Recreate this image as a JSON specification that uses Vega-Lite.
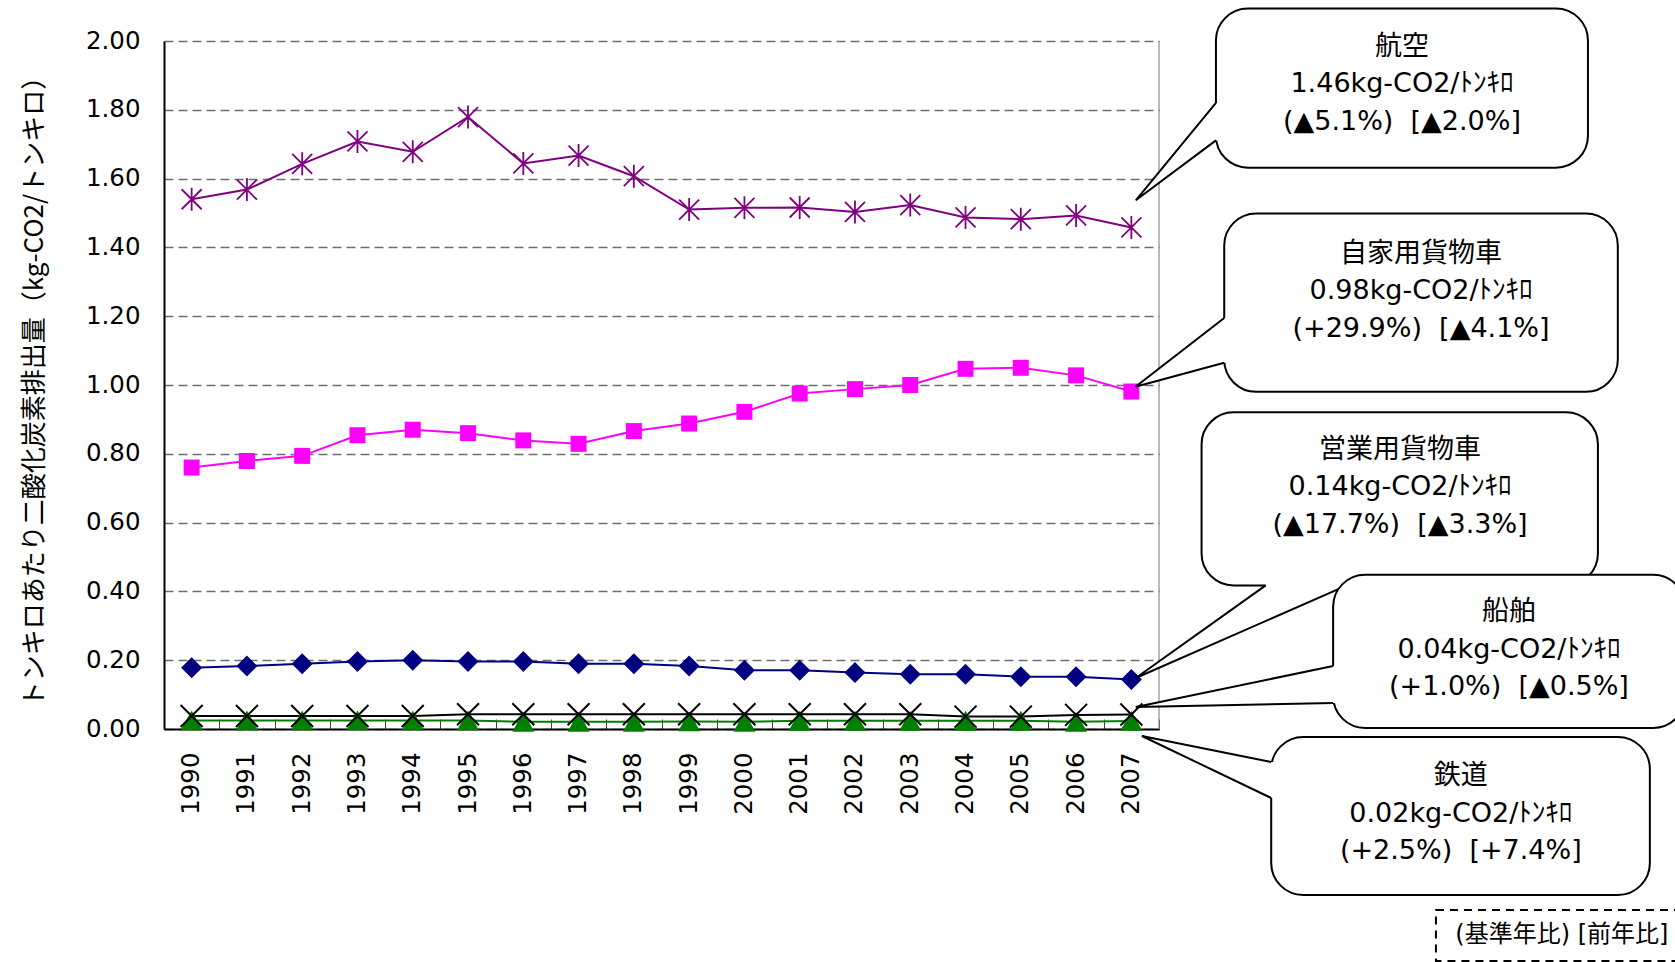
{
  "$schema": "https://vega.github.io/schema/vega-lite/v6.json",
  "width": 995,
  "height": 688,
  "autosize": {"type": "none"},
  "padding": {"left": 164, "top": 41, "right": 516, "bottom": 233},
  "background": "white",
  "config": {"view": {"stroke": null}},
  "datasets": {
    "series": [
      {"year": 1990, "series": "航空", "value": 1.540},
      {"year": 1991, "series": "航空", "value": 1.568},
      {"year": 1992, "series": "航空", "value": 1.643},
      {"year": 1993, "series": "航空", "value": 1.708},
      {"year": 1994, "series": "航空", "value": 1.678},
      {"year": 1995, "series": "航空", "value": 1.779},
      {"year": 1996, "series": "航空", "value": 1.644},
      {"year": 1997, "series": "航空", "value": 1.667},
      {"year": 1998, "series": "航空", "value": 1.607},
      {"year": 1999, "series": "航空", "value": 1.510},
      {"year": 2000, "series": "航空", "value": 1.515},
      {"year": 2001, "series": "航空", "value": 1.516},
      {"year": 2002, "series": "航空", "value": 1.503},
      {"year": 2003, "series": "航空", "value": 1.523},
      {"year": 2004, "series": "航空", "value": 1.487},
      {"year": 2005, "series": "航空", "value": 1.482},
      {"year": 2006, "series": "航空", "value": 1.493},
      {"year": 2007, "series": "航空", "value": 1.458},
      {"year": 1990, "series": "自家用貨物車", "value": 0.760},
      {"year": 1991, "series": "自家用貨物車", "value": 0.779},
      {"year": 1992, "series": "自家用貨物車", "value": 0.794},
      {"year": 1993, "series": "自家用貨物車", "value": 0.854},
      {"year": 1994, "series": "自家用貨物車", "value": 0.870},
      {"year": 1995, "series": "自家用貨物車", "value": 0.860},
      {"year": 1996, "series": "自家用貨物車", "value": 0.839},
      {"year": 1997, "series": "自家用貨物車", "value": 0.829},
      {"year": 1998, "series": "自家用貨物車", "value": 0.866},
      {"year": 1999, "series": "自家用貨物車", "value": 0.888},
      {"year": 2000, "series": "自家用貨物車", "value": 0.922},
      {"year": 2001, "series": "自家用貨物車", "value": 0.975},
      {"year": 2002, "series": "自家用貨物車", "value": 0.988},
      {"year": 2003, "series": "自家用貨物車", "value": 1.000},
      {"year": 2004, "series": "自家用貨物車", "value": 1.047},
      {"year": 2005, "series": "自家用貨物車", "value": 1.050},
      {"year": 2006, "series": "自家用貨物車", "value": 1.028},
      {"year": 2007, "series": "自家用貨物車", "value": 0.981},
      {"year": 1990, "series": "営業用貨物車", "value": 0.178},
      {"year": 1991, "series": "営業用貨物車", "value": 0.183},
      {"year": 1992, "series": "営業用貨物車", "value": 0.190},
      {"year": 1993, "series": "営業用貨物車", "value": 0.196},
      {"year": 1994, "series": "営業用貨物車", "value": 0.200},
      {"year": 1995, "series": "営業用貨物車", "value": 0.196},
      {"year": 1996, "series": "営業用貨物車", "value": 0.196},
      {"year": 1997, "series": "営業用貨物車", "value": 0.190},
      {"year": 1998, "series": "営業用貨物車", "value": 0.190},
      {"year": 1999, "series": "営業用貨物車", "value": 0.183},
      {"year": 2000, "series": "営業用貨物車", "value": 0.171},
      {"year": 2001, "series": "営業用貨物車", "value": 0.171},
      {"year": 2002, "series": "営業用貨物車", "value": 0.164},
      {"year": 2003, "series": "営業用貨物車", "value": 0.159},
      {"year": 2004, "series": "営業用貨物車", "value": 0.159},
      {"year": 2005, "series": "営業用貨物車", "value": 0.152},
      {"year": 2006, "series": "営業用貨物車", "value": 0.152},
      {"year": 2007, "series": "営業用貨物車", "value": 0.144},
      {"year": 1990, "series": "船舶", "value": 0.038},
      {"year": 1991, "series": "船舶", "value": 0.038},
      {"year": 1992, "series": "船舶", "value": 0.038},
      {"year": 1993, "series": "船舶", "value": 0.038},
      {"year": 1994, "series": "船舶", "value": 0.038},
      {"year": 1995, "series": "船舶", "value": 0.043},
      {"year": 1996, "series": "船舶", "value": 0.043},
      {"year": 1997, "series": "船舶", "value": 0.043},
      {"year": 1998, "series": "船舶", "value": 0.043},
      {"year": 1999, "series": "船舶", "value": 0.043},
      {"year": 2000, "series": "船舶", "value": 0.043},
      {"year": 2001, "series": "船舶", "value": 0.043},
      {"year": 2002, "series": "船舶", "value": 0.043},
      {"year": 2003, "series": "船舶", "value": 0.043},
      {"year": 2004, "series": "船舶", "value": 0.036},
      {"year": 2005, "series": "船舶", "value": 0.036},
      {"year": 2006, "series": "船舶", "value": 0.041},
      {"year": 2007, "series": "船舶", "value": 0.042},
      {"year": 1990, "series": "鉄道", "value": 0.025},
      {"year": 1991, "series": "鉄道", "value": 0.025},
      {"year": 1992, "series": "鉄道", "value": 0.025},
      {"year": 1993, "series": "鉄道", "value": 0.025},
      {"year": 1994, "series": "鉄道", "value": 0.025},
      {"year": 1995, "series": "鉄道", "value": 0.025},
      {"year": 1996, "series": "鉄道", "value": 0.021},
      {"year": 1997, "series": "鉄道", "value": 0.021},
      {"year": 1998, "series": "鉄道", "value": 0.021},
      {"year": 1999, "series": "鉄道", "value": 0.022},
      {"year": 2000, "series": "鉄道", "value": 0.021},
      {"year": 2001, "series": "鉄道", "value": 0.024},
      {"year": 2002, "series": "鉄道", "value": 0.024},
      {"year": 2003, "series": "鉄道", "value": 0.024},
      {"year": 2004, "series": "鉄道", "value": 0.024},
      {"year": 2005, "series": "鉄道", "value": 0.024},
      {"year": 2006, "series": "鉄道", "value": 0.021},
      {"year": 2007, "series": "鉄道", "value": 0.0235}
    ],
    "callouts": [
      {"name": "航空", "x": 2008.53, "x2": 2015.26, "y": 2.0945, "y2": 1.6317, "cx": 2011.895, "cy": 1.983, "label": "航空\n1.46kg-CO2/ﾄﾝｷﾛ\n(▲5.1%)\u00a0\u00a0[▲2.0%]"},
      {"name": "自家用貨物車", "x": 2008.68, "x2": 2015.80, "y": 1.4985, "y2": 0.9802, "cx": 2012.24, "cy": 1.382, "label": "自家用貨物車\n0.98kg-CO2/ﾄﾝｷﾛ\n(+29.9%)\u00a0\u00a0[▲4.1%]"},
      {"name": "営業用貨物車", "x": 2008.27, "x2": 2015.44, "y": 0.9206, "y2": 0.4174, "cx": 2011.86, "cy": 0.812, "label": "営業用貨物車\n0.14kg-CO2/ﾄﾝｷﾛ\n(▲17.7%)\u00a0\u00a0[▲3.3%]"},
      {"name": "船舶", "x": 2010.65, "x2": 2017.02, "y": 0.4485, "y2": 0.0029, "cx": 2013.83, "cy": 0.340, "label": "船舶\n0.04kg-CO2/ﾄﾝｷﾛ\n(+1.0%)\u00a0\u00a0[▲0.5%]"},
      {"name": "鉄道", "x": 2009.53, "x2": 2016.38, "y": -0.0233, "y2": -0.4826, "cx": 2012.96, "cy": -0.138, "label": "鉄道\n0.02kg-CO2/ﾄﾝｷﾛ\n(+2.5%)\u00a0\u00a0[+7.4%]"}
    ],
    "tailEdges": [
      {"name": "航空", "o": 1, "x": 2008.53, "y": 1.82},
      {"name": "航空", "o": 2, "x": 2007.08, "y": 1.537},
      {"name": "航空", "o": 3, "x": 2008.53, "y": 1.711},
      {"name": "自家用貨物車", "o": 1, "x": 2008.68, "y": 1.1948},
      {"name": "自家用貨物車", "o": 2, "x": 2007.075, "y": 0.995},
      {"name": "自家用貨物車", "o": 3, "x": 2008.68, "y": 1.0648},
      {"name": "営業用貨物車", "o": 1, "x": 2009.43, "y": 0.4174},
      {"name": "営業用貨物車", "o": 2, "x": 2007.08, "y": 0.1483},
      {"name": "営業用貨物車", "o": 3, "x": 2010.90, "y": 0.4174},
      {"name": "船舶", "o": 1, "x": 2010.65, "y": 0.1831},
      {"name": "船舶", "o": 2, "x": 2007.08, "y": 0.064},
      {"name": "船舶", "o": 3, "x": 2010.65, "y": 0.0756},
      {"name": "鉄道", "o": 1, "x": 2009.53, "y": -0.0959},
      {"name": "鉄道", "o": 2, "x": 2007.19, "y": -0.0203},
      {"name": "鉄道", "o": 3, "x": 2009.53, "y": -0.2006}
    ],
    "tailFillSide": [
      {"name": "航空", "x": 2007.08, "y": 1.537, "y2": 1.537},
      {"name": "航空", "x": 2008.53, "y": 1.82, "y2": 1.711},
      {"name": "航空", "x": 2008.62, "y": 1.82, "y2": 1.711},
      {"name": "自家用貨物車", "x": 2007.075, "y": 0.995, "y2": 0.995},
      {"name": "自家用貨物車", "x": 2008.68, "y": 1.1948, "y2": 1.0648},
      {"name": "自家用貨物車", "x": 2008.77, "y": 1.1948, "y2": 1.0648},
      {"name": "船舶", "x": 2007.08, "y": 0.064, "y2": 0.064},
      {"name": "船舶", "x": 2010.65, "y": 0.1831, "y2": 0.0756},
      {"name": "船舶", "x": 2010.74, "y": 0.1831, "y2": 0.0756},
      {"name": "鉄道", "x": 2007.19, "y": -0.0203, "y2": -0.0203},
      {"name": "鉄道", "x": 2009.53, "y": -0.0959, "y2": -0.2006},
      {"name": "鉄道", "x": 2009.62, "y": -0.0959, "y2": -0.2006}
    ],
    "tailFillBottom": [
      {"name": "営業用貨物車", "y": 0.1483, "x": 2007.08, "x2": 2007.08},
      {"name": "営業用貨物車", "y": 0.4174, "x": 2009.43, "x2": 2010.90},
      {"name": "営業用貨物車", "y": 0.434, "x": 2009.43, "x2": 2010.90}
    ],
    "note": [
      {"x": 2012.51, "x2": 2017.29, "y": -0.526, "y2": -0.6744, "tx": 2012.86, "ty": -0.5988, "label": "(基準年比) [前年比]"}
    ]
  },
  "layer": [
    {
      "data": {"name": "series"},
      "encoding": {
        "x": {
          "field": "year", "type": "ordinal",
          "scale": {"type": "band", "paddingInner": 0, "paddingOuter": 0},
          "axis": {
            "title": null, "labelAngle": -90, "labelAlign": "right", "labelBaseline": "middle",
            "labelFont": "DejaVu Sans", "labelFontSize": 24.5, "labelColor": "#000000",
            "labelPadding": 33, "labelOverlap": false,
            "tickBand": "extent", "tickSize": -10, "tickColor": "#404040", "tickWidth": 1,
            "domainColor": "#000000", "domainWidth": 2, "grid": false
          }
        },
        "y": {
          "field": "value", "type": "quantitative",
          "scale": {"domain": [0, 2], "nice": false, "zero": false},
          "axis": {
            "title": "トンキロあたり二酸化炭素排出量（kg-CO2/トンキロ）",
            "titleFont": "Noto Sans CJK JP", "titleFontSize": 26, "titleFontWeight": "normal",
            "titleColor": "#000000", "titlePadding": 38,
            "values": [0, 0.2, 0.4, 0.6, 0.8, 1.0, 1.2, 1.4, 1.6, 1.8, 2.0],
            "format": ".2f",
            "labelFont": "DejaVu Sans", "labelFontSize": 24.5, "labelColor": "#000000", "labelPadding": 24,
            "ticks": false, "domainColor": "#000000", "domainWidth": 2,
            "grid": true, "gridColor": "#6e6e6e", "gridDash": [9, 5], "gridWidth": 1.5
          }
        }
      },
      "layer": [
        {
          "mark": {"type": "line", "strokeWidth": 2},
          "encoding": {
            "color": {
              "field": "series", "type": "nominal", "legend": null,
              "scale": {
                "domain": ["鉄道", "船舶", "営業用貨物車", "自家用貨物車", "航空"],
                "range": ["#008000", "#000000", "#000080", "#FF00FF", "#800080"]
              }
            }
          }
        },
        {
          "transform": [{"filter": "datum.series === '鉄道'"}],
          "mark": {"type": "point", "shape": "M0,-0.9L1,0.9L-1,0.9Z", "filled": true, "size": 484, "color": "#008000", "opacity": 1}
        },
        {
          "transform": [{"filter": "datum.series === '船舶'"}],
          "mark": {"type": "point", "shape": "M-1,-1L1,1M-1,1L1,-1", "filled": false, "size": 484, "color": "#000000", "strokeWidth": 2, "opacity": 1}
        },
        {
          "transform": [{"filter": "datum.series === '営業用貨物車'"}],
          "mark": {"type": "point", "shape": "diamond", "filled": true, "size": 441, "color": "#000080", "opacity": 1}
        },
        {
          "transform": [{"filter": "datum.series === '自家用貨物車'"}],
          "mark": {"type": "point", "shape": "square", "filled": true, "size": 256, "color": "#FF00FF", "opacity": 1}
        },
        {
          "transform": [{"filter": "datum.series === '航空'"}],
          "mark": {"type": "point", "shape": "M-1,-1L1,1M-1,1L1,-1M0,-1.15L0,1.15", "filled": false, "size": 400, "color": "#800080", "strokeWidth": 1.8, "opacity": 1}
        }
      ]
    },
    {
      "layer": [
        {
          "data": {"values": [{}]},
          "mark": {"type": "rule", "color": "#8c8c8c", "strokeWidth": 1.2},
          "encoding": {
            "x": {"datum": 2007.5, "type": "quantitative", "scale": {"domain": [1989.5, 2007.5], "nice": false, "zero": false}, "axis": null},
            "y": {"datum": 0, "type": "quantitative", "scale": {"domain": [0, 2], "nice": false, "zero": false}, "axis": null},
            "y2": {"datum": 2}
          }
        },
        {
          "data": {"name": "callouts"},
          "transform": [{"filter": {"field": "name", "oneOf": ["航空", "自家用貨物車", "営業用貨物車"]}}],
          "mark": {"type": "rect", "fill": "white", "stroke": "black", "strokeWidth": 2, "cornerRadius": 32},
          "encoding": {
            "x": {"field": "x", "type": "quantitative", "scale": {"domain": [1989.5, 2007.5], "nice": false, "zero": false}, "axis": null},
            "x2": {"field": "x2"},
            "y": {"field": "y", "type": "quantitative", "scale": {"domain": [0, 2], "nice": false, "zero": false}, "axis": null},
            "y2": {"field": "y2"}
          }
        },
        {
          "data": {"name": "tailFillSide"},
          "transform": [{"filter": {"field": "name", "oneOf": ["航空", "自家用貨物車"]}}],
          "mark": {"type": "area", "fill": "white", "opacity": 1, "strokeWidth": 0},
          "encoding": {
            "x": {"field": "x", "type": "quantitative", "scale": {"domain": [1989.5, 2007.5], "nice": false, "zero": false}, "axis": null},
            "y": {"field": "y", "type": "quantitative", "scale": {"domain": [0, 2], "nice": false, "zero": false}, "axis": null},
            "y2": {"field": "y2"},
            "detail": {"field": "name"}
          }
        },
        {
          "data": {"name": "tailFillBottom"},
          "mark": {"type": "area", "fill": "white", "opacity": 1, "strokeWidth": 0},
          "encoding": {
            "y": {"field": "y", "type": "quantitative", "scale": {"domain": [0, 2], "nice": false, "zero": false}, "axis": null},
            "x": {"field": "x", "type": "quantitative", "scale": {"domain": [1989.5, 2007.5], "nice": false, "zero": false}, "axis": null},
            "x2": {"field": "x2"},
            "detail": {"field": "name"}
          }
        },
        {
          "data": {"name": "tailEdges"},
          "transform": [{"filter": {"field": "name", "oneOf": ["航空", "自家用貨物車", "営業用貨物車"]}}],
          "mark": {"type": "line", "color": "black", "strokeWidth": 2},
          "encoding": {
            "x": {"field": "x", "type": "quantitative", "scale": {"domain": [1989.5, 2007.5], "nice": false, "zero": false}, "axis": null},
            "y": {"field": "y", "type": "quantitative", "scale": {"domain": [0, 2], "nice": false, "zero": false}, "axis": null},
            "detail": {"field": "name"},
            "order": {"field": "o"}
          }
        },
        {
          "data": {"name": "callouts"},
          "transform": [{"filter": {"field": "name", "oneOf": ["航空", "自家用貨物車", "営業用貨物車"]}}],
          "mark": {"type": "text", "font": "DejaVu Sans, Noto Sans CJK JP", "fontSize": 27, "color": "black", "align": "center", "baseline": "middle", "lineBreak": "\n", "lineHeight": 37.5},
          "encoding": {
            "x": {"field": "cx", "type": "quantitative", "scale": {"domain": [1989.5, 2007.5], "nice": false, "zero": false}, "axis": null},
            "y": {"field": "cy", "type": "quantitative", "scale": {"domain": [0, 2], "nice": false, "zero": false}, "axis": null},
            "text": {"field": "label"}
          }
        },
        {
          "data": {"name": "callouts"},
          "transform": [{"filter": {"field": "name", "oneOf": ["船舶", "鉄道"]}}],
          "mark": {"type": "rect", "fill": "white", "stroke": "black", "strokeWidth": 2, "cornerRadius": 32},
          "encoding": {
            "x": {"field": "x", "type": "quantitative", "scale": {"domain": [1989.5, 2007.5], "nice": false, "zero": false}, "axis": null},
            "x2": {"field": "x2"},
            "y": {"field": "y", "type": "quantitative", "scale": {"domain": [0, 2], "nice": false, "zero": false}, "axis": null},
            "y2": {"field": "y2"}
          }
        },
        {
          "data": {"name": "tailFillSide"},
          "transform": [{"filter": {"field": "name", "oneOf": ["船舶", "鉄道"]}}],
          "mark": {"type": "area", "fill": "white", "opacity": 1, "strokeWidth": 0},
          "encoding": {
            "x": {"field": "x", "type": "quantitative", "scale": {"domain": [1989.5, 2007.5], "nice": false, "zero": false}, "axis": null},
            "y": {"field": "y", "type": "quantitative", "scale": {"domain": [0, 2], "nice": false, "zero": false}, "axis": null},
            "y2": {"field": "y2"},
            "detail": {"field": "name"}
          }
        },
        {
          "data": {"name": "tailEdges"},
          "transform": [{"filter": {"field": "name", "oneOf": ["船舶", "鉄道"]}}],
          "mark": {"type": "line", "color": "black", "strokeWidth": 2},
          "encoding": {
            "x": {"field": "x", "type": "quantitative", "scale": {"domain": [1989.5, 2007.5], "nice": false, "zero": false}, "axis": null},
            "y": {"field": "y", "type": "quantitative", "scale": {"domain": [0, 2], "nice": false, "zero": false}, "axis": null},
            "detail": {"field": "name"},
            "order": {"field": "o"}
          }
        },
        {
          "data": {"name": "callouts"},
          "transform": [{"filter": {"field": "name", "oneOf": ["船舶", "鉄道"]}}],
          "mark": {"type": "text", "font": "DejaVu Sans, Noto Sans CJK JP", "fontSize": 27, "color": "black", "align": "center", "baseline": "middle", "lineBreak": "\n", "lineHeight": 37.5},
          "encoding": {
            "x": {"field": "cx", "type": "quantitative", "scale": {"domain": [1989.5, 2007.5], "nice": false, "zero": false}, "axis": null},
            "y": {"field": "cy", "type": "quantitative", "scale": {"domain": [0, 2], "nice": false, "zero": false}, "axis": null},
            "text": {"field": "label"}
          }
        },
        {
          "data": {"name": "note"},
          "mark": {"type": "rect", "fill": null, "stroke": "black", "strokeWidth": 2, "strokeDash": [8, 6]},
          "encoding": {
            "x": {"field": "x", "type": "quantitative", "scale": {"domain": [1989.5, 2007.5], "nice": false, "zero": false}, "axis": null},
            "x2": {"field": "x2"},
            "y": {"field": "y", "type": "quantitative", "scale": {"domain": [0, 2], "nice": false, "zero": false}, "axis": null},
            "y2": {"field": "y2"}
          }
        },
        {
          "data": {"name": "note"},
          "mark": {"type": "text", "font": "DejaVu Sans, Noto Sans CJK JP", "fontSize": 24, "color": "black", "align": "left", "baseline": "middle"},
          "encoding": {
            "x": {"field": "tx", "type": "quantitative", "scale": {"domain": [1989.5, 2007.5], "nice": false, "zero": false}, "axis": null},
            "y": {"field": "ty", "type": "quantitative", "scale": {"domain": [0, 2], "nice": false, "zero": false}, "axis": null},
            "text": {"field": "label"}
          }
        }
      ]
    }
  ],
  "resolve": {"scale": {"x": "independent", "y": "independent"}}
}
